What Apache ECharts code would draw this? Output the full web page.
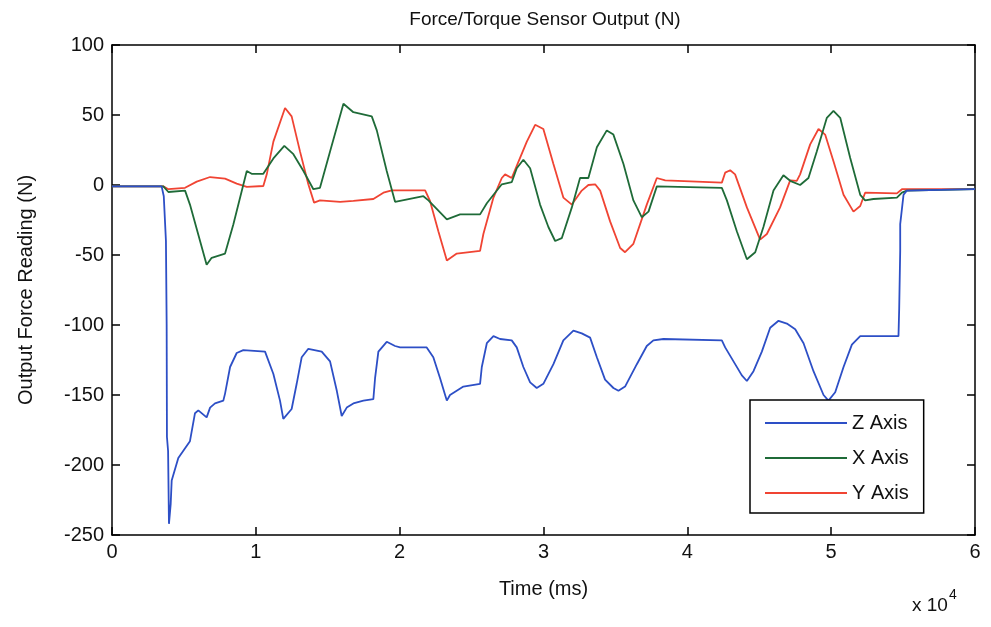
<!DOCTYPE html>
<html>
<head>
<meta charset="utf-8">
<script src="https://cdn.jsdelivr.net/npm/echarts@6/dist/echarts.min.js"></script>
<style>html,body{margin:0;padding:0;background:#fff}#c{width:991px;height:627px}</style>
</head>
<body>
<div id="c"></div>
<script>
// time in ms, force in N
const zAxisData = [[0,-1],[3450,-1],[3600,-8],[3750,-40],[3800,-100],[3820,-180],[3900,-190],[3960,-242],[4080,-228],[4150,-211],[4610,-195],[5080,-188],[5420,-183],[5770,-163],[6000,-161],[6580,-166],[6820,-159],[7160,-156],[7740,-154],[7860,-149],[8210,-130],[8670,-120],[9130,-118],[10640,-119],[11220,-135],[11680,-154],[11910,-167],[12490,-160],[12840,-142],[13190,-123],[13650,-117],[14580,-119],[15160,-126],[15630,-147],[15970,-165],[16320,-159],[16780,-156],[17480,-154],[18170,-153],[18290,-138],[18520,-119],[19100,-112],[19680,-115],[20030,-116],[21880,-116],[22340,-123],[22810,-138],[23160,-150],[23280,-154],[23500,-150],[24430,-144],[25590,-142],[25710,-130],[26060,-113],[26520,-108],[26980,-110],[27790,-111],[28140,-116],[28600,-130],[29070,-141],[29530,-145],[29990,-142],[30690,-128],[31380,-111],[32080,-104],[32660,-106],[33240,-109],[33710,-123],[34280,-139],[34860,-145],[35210,-147],[35670,-144],[36490,-128],[37180,-115],[37640,-111],[38340,-110],[42400,-111],[42630,-116],[43210,-126],[43790,-136],[44140,-140],[44600,-133],[45180,-119],[45760,-102],[46340,-97],[46920,-99],[47500,-103],[48080,-113],[48770,-133],[49470,-150],[49810,-154],[50280,-148],[50860,-130],[51440,-114],[52020,-108],[54680,-108],[54730,-88],[54800,-47],[54800,-28],[55030,-7],[55260,-4],[60000,-3]];
const xAxisData = [[0,-1],[3570,-1],[3920,-5],[5080,-4],[5420,-14],[6580,-57],[6930,-52],[7860,-49],[8440,-28],[9370,10],[9710,8],[10520,8],[11220,19],[11980,28],[12610,22],[13310,10],[14000,-3],[14460,-2],[15160,24],[16090,58],[16780,52],[18060,49],[18410,39],[19100,10],[19680,-12],[21650,-8],[22000,-11],[23280,-24.5],[24200,-21],[25590,-21],[26060,-13],[27100,0.5],[27790,2],[28140,12],[28600,18],[29070,12],[29760,-14],[30340,-30],[30810,-40],[31270,-38],[31970,-16],[32540,5],[33120,5],[33710,27],[34400,39],[34860,36],[35560,15],[36250,-11],[36830,-23],[37300,-19],[37880,-1],[42400,-2],[42750,-11],[43440,-33],[44140,-53],[44720,-48],[45290,-30],[45990,-4],[46680,7],[47150,3],[47840,0],[48420,5],[49000,24],[49700,48],[50160,53],[50630,48],[51320,19.5],[52020,-7],[52360,-11],[52940,-10],[54570,-9],[54920,-5.5],[55260,-4],[60000,-3]];
const yAxisData = [[0,-1],[3570,-1],[3920,-3],[5080,-2],[5890,2.4],[6820,5.7],[7860,4.5],[8670,1],[9370,-1.4],[10520,-0.7],[10760,7.6],[11220,31],[12030,55],[12490,49],[13070,24],[13650,0.5],[14050,-12.6],[14460,-11],[15860,-12],[16780,-11.4],[18170,-10],[18870,-5.5],[19450,-3.8],[21770,-3.8],[22110,-11.4],[22690,-33],[23280,-54],[23970,-49],[25590,-47],[25820,-35],[26520,-9],[27100,5],[27330,7.6],[27790,5],[28140,13.6],[28840,31],[29420,43],[29990,40],[30690,15],[31380,-9],[31970,-14],[32660,-4],[33120,0],[33590,0.5],[33940,-4],[34630,-26],[35330,-45],[35670,-48],[36250,-42],[37180,-14],[37880,5],[38460,3.3],[42400,1.7],[42630,8.8],[42980,10.5],[43320,7.6],[44140,-16],[45060,-39],[45530,-35],[46450,-16],[47150,3.3],[47610,2.9],[47840,7.6],[48540,29],[49120,40],[49580,36],[50160,17],[50860,-7],[51550,-19],[52020,-15],[52360,-5.5],[54570,-6],[54920,-3],[60000,-3]];
const seriesNames = ['Z Axis','X Axis','Y Axis'];
const seriesColors = ['#2d4fc6','#1f6b38','#f04433'];
const xTicks = {min:0, max:60000, interval:10000};
const yTicks = {min:-250, max:100, interval:50};

const font = 'Liberation Sans, Arial, sans-serif';
const chart = echarts.init(document.getElementById('c'));
const axisLine = {show:true, onZero:false, lineStyle:{color:'#000', width:1.5}};
const tick = {show:true, inside:true, length:8, lineStyle:{color:'#000', width:1.5}};
chart.setOption({
  animation:false,
  backgroundColor:'#fff',
  title:{text:'Force/Torque Sensor Output (N)', left:540, top:5, textAlign:'center',
    textStyle:{fontFamily:font, fontSize:19, fontWeight:'normal', color:'#111'}},
  grid:{left:112, right:16, top:45, bottom:92},
  legend:{orient:'vertical', left:750, top:400, padding:[13,15,10,15], itemGap:15,
    itemWidth:82, itemHeight:2, icon:'rect', borderColor:'#000', borderWidth:1.5, backgroundColor:'#fff',
    textStyle:{fontFamily:font, fontSize:20, color:'#111', lineHeight:20},
    data:seriesNames},
  xAxis:[{type:'value', min:xTicks.min, max:xTicks.max, interval:xTicks.interval,
      name:'Time (ms)', nameLocation:'middle', nameGap:44,
      nameTextStyle:{fontFamily:font, fontSize:20, color:'#111'},
      axisLine, axisTick:tick, splitLine:{show:false},
      axisLabel:{fontFamily:font, fontSize:20, color:'#111', margin:7, formatter:v=>String(v/10000)}},
    {type:'value', position:'top', min:xTicks.min, max:xTicks.max, interval:xTicks.interval,
      axisLine, axisTick:tick, axisLabel:{show:false}, splitLine:{show:false}}],
  yAxis:[{type:'value', min:yTicks.min, max:yTicks.max, interval:yTicks.interval,
      name:'Output Force Reading (N)', nameLocation:'middle', nameGap:76,
      nameTextStyle:{fontFamily:font, fontSize:20, color:'#111'},
      axisLine, axisTick:tick, splitLine:{show:false},
      axisLabel:{fontFamily:font, fontSize:20, color:'#111', margin:8}},
    {type:'value', position:'right', min:yTicks.min, max:yTicks.max, interval:yTicks.interval,
      axisLine, axisTick:tick, axisLabel:{show:false}, splitLine:{show:false}}],
  graphic:[{type:'text', left:912, top:588,
    style:{rich:{a:{fontFamily:font, fontSize:19, fill:'#111', padding:[14,0,0,0]}, b:{fontFamily:font, fontSize:14, fill:'#111', padding:[0,0,8,1]}},
      text:'{a|x 10}{b|4}'}}],
  series:[zAxisData, xAxisData, yAxisData].map((d,i)=>({
    name:seriesNames[i], type:'line', data:d, symbol:'none', showSymbol:false,
    color:seriesColors[i], itemStyle:{color:seriesColors[i]},
    lineStyle:{width:1.8, color:seriesColors[i]}, z:3-i
  }))
});
</script>
</body>
</html>
